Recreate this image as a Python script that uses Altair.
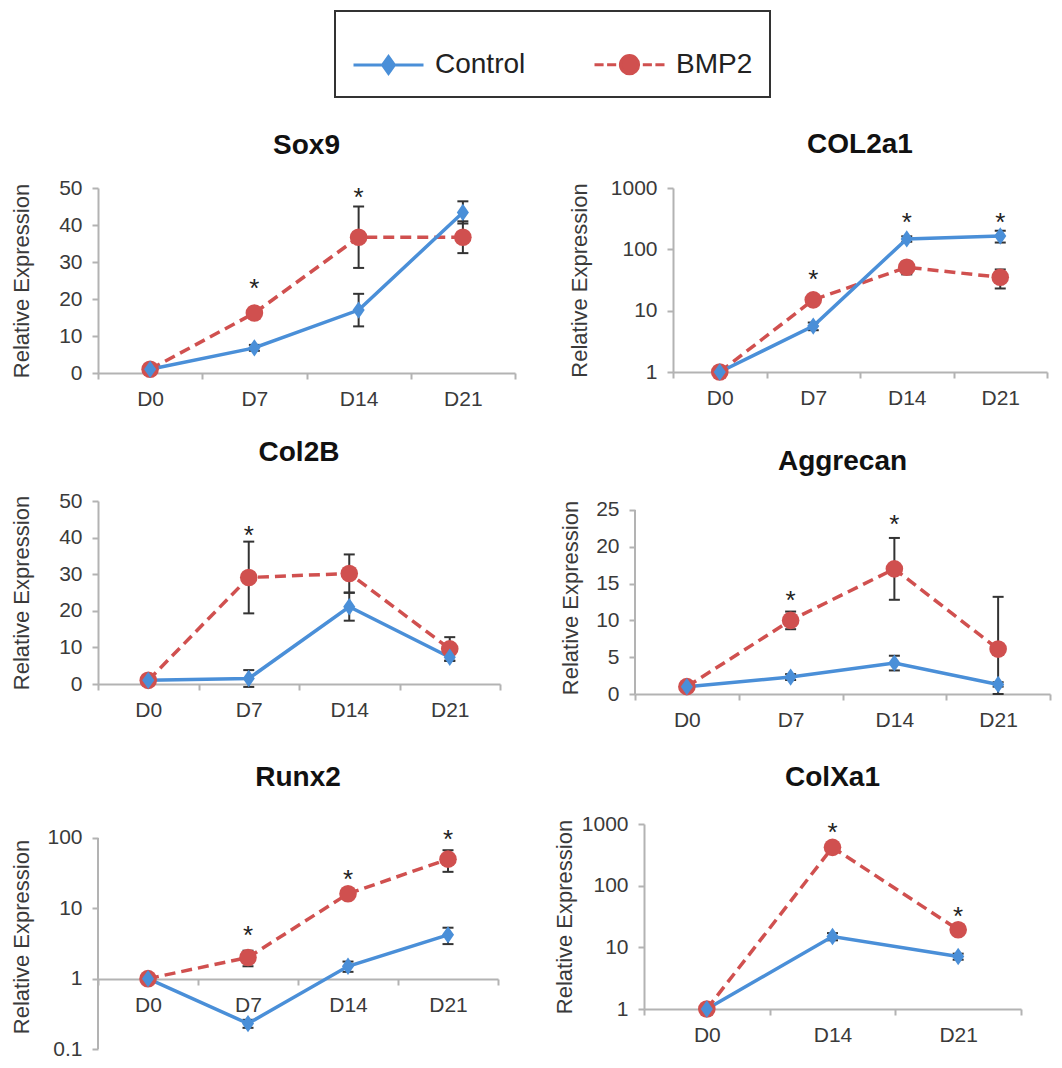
import altair as alt
import pandas as pd

FONT = "Liberation Sans"
BLUE = "#4a8fd8"
RED = "#d0504f"
BAR = "#333333"
AXIS_GREY = "#b3b3b3"

series_names = ["Control", "BMP2"]
days4 = ["D0", "D7", "D14", "D21"]
days3 = ["D0", "D14", "D21"]

# ---- Sox9 ----
sox9_ctrl = [1.0, 6.8, 17.0, 43.4]
sox9_ctrl_sd = [0.3, 0.8, 4.4, 3.0]
sox9_bmp = [1.0, 16.2, 36.7, 36.7]
sox9_bmp_sd = [0.3, 1.0, 8.3, 4.3]
sox9_star_days = ["D7", "D14"]
sox9_star_y = [25.0, 49.5]

# ---- COL2a1 (log) ----
col2a1_ctrl = [1.0, 5.6, 148.0, 165.0]
col2a1_ctrl_sd = [0.05, 0.8, 15.0, 36.0]
col2a1_bmp = [1.0, 15.0, 51.0, 35.0]
col2a1_bmp_sd = [0.05, 2.0, 12.0, 12.0]
col2a1_star_days = ["D7", "D14", "D21"]
col2a1_star_y = [42.0, 360.0, 360.0]

# ---- Col2B ----
col2b_ctrl = [1.0, 1.5, 21.1, 7.3]
col2b_ctrl_sd = [0.3, 2.3, 3.8, 1.0]
col2b_bmp = [1.0, 29.1, 30.2, 9.6]
col2b_bmp_sd = [0.3, 9.8, 5.2, 3.2]
col2b_star_days = ["D7"]
col2b_star_y = [42.7]

# ---- Aggrecan ----
agg_ctrl = [1.0, 2.3, 4.2, 1.3]
agg_ctrl_sd = [0.1, 0.4, 1.0, 0.3]
agg_bmp = [1.0, 10.0, 17.0, 6.1]
agg_bmp_sd = [0.1, 1.2, 4.2, 7.1]
agg_star_days = ["D7", "D14"]
agg_star_y = [13.7, 24.0]

# ---- Runx2 (log) ----
runx2_ctrl = [1.0, 0.23, 1.5, 4.2]
runx2_ctrl_sd = [0.05, 0.03, 0.25, 1.1]
runx2_bmp = [1.0, 2.0, 16.1, 50.0]
runx2_bmp_sd = [0.05, 0.5, 1.5, 17.0]
runx2_star_days = ["D7", "D14", "D21"]
runx2_star_y = [5.2, 33.0, 120.0]

# ---- ColXa1 (log) ----
colx_ctrl = [1.0, 15.0, 7.1]
colx_ctrl_sd = [0.05, 2.0, 0.8]
colx_bmp = [1.0, 418.0, 19.3]
colx_bmp_sd = [0.05, 40.0, 2.0]
colx_star_days = ["D14", "D21"]
colx_star_y = [950.0, 42.0]

DIAMOND = "M0,-1L0.7,0L0,1L-0.7,0Z"
LEG_CTRL = "M-1,0H1M0,-0.24L0.17,0L0,0.24L-0.17,0Z"
LEG_BMP = ("M-1,0H-0.74M-0.64,0H-0.38M0.38,0H0.64M0.74,0H1"
           "M-0.26,0A0.26,0.26,0,1,0,0.26,0A0.26,0.26,0,1,0,-0.26,0Z")


def panel(title, days, ctrl, ctrl_sd, bmp, bmp_sd, star_days, star_y, *, log,
          domain, ticks, width, height, title_offset, title_pad, x_offset=0,
          clamp=False, legend=None, own_y_line=False):
    rows = []
    for name, vals, sds in (("Control", ctrl, ctrl_sd), ("BMP2", bmp, bmp_sd)):
        for d, v, s in zip(days, vals, sds):
            rows.append({"day": d, "series": name, "value": v, "lo": v - s, "hi": v + s})
    df = pd.DataFrame(rows)
    stars = pd.DataFrame({"day": star_days, "y": star_y})

    yscale = alt.Scale(type="log" if log else "linear", domain=domain, nice=False, clamp=clamp)
    xscale = alt.Scale(type="band", paddingInner=0, paddingOuter=0)
    xaxis = alt.Axis(title=None, labelAngle=0, tickBand="extent", offset=x_offset)
    yaxis = alt.Axis(title="Relative Expression", values=ticks, format="~r",
                     titlePadding=title_pad, labelPadding=10, domain=not own_y_line)
    xc = alt.X("day:N", sort=days, bandPosition=0.5, scale=xscale, axis=xaxis)
    xt = alt.X("day:N", sort=days, scale=xscale, axis=xaxis)

    def Y(f):
        return alt.Y(f, scale=yscale, axis=yaxis)

    base = alt.Chart(df)
    err = base.mark_rule(color=BAR, strokeWidth=2).encode(x=xc, y=Y("lo:Q"), y2="hi:Q")
    cap_lo = base.mark_tick(color=BAR, thickness=2, size=11, opacity=1).encode(x=xt, y=Y("lo:Q"))
    cap_hi = base.mark_tick(color=BAR, thickness=2, size=11, opacity=1).encode(x=xt, y=Y("hi:Q"))
    ctrl_df = base.transform_filter(alt.datum.series == "Control")
    bmp_df = base.transform_filter(alt.datum.series == "BMP2")
    l_ctrl = ctrl_df.mark_line(color=BLUE, strokeWidth=3.5).encode(x=xc, y=Y("value:Q"))
    l_bmp = bmp_df.mark_line(color=RED, strokeWidth=3.5, strokeDash=[11, 6]).encode(x=xc, y=Y("value:Q"))
    p_ctrl = ctrl_df.mark_point(filled=True, opacity=1, shape=DIAMOND, size=300, color=BLUE).encode(x=xc, y=Y("value:Q"))
    p_bmp = bmp_df.mark_point(filled=True, opacity=1, shape="circle", size=310, color=RED).encode(x=xc, y=Y("value:Q"))
    st = alt.Chart(stars).mark_text(text="*", font=FONT, fontSize=26, color="#222", dy=8).encode(x=xc, y=Y("y:Q"))

    layers = []
    if own_y_line:
        # vertical axis line drawn only over the labelled tick range
        yl = pd.DataFrame({"day": [days[0]], "ymin": [ticks[0]], "ymax": [ticks[-1]]})
        layers.append(alt.Chart(yl).mark_rule(color=AXIS_GREY, strokeWidth=2).encode(
            x=alt.X("day:N", sort=days, bandPosition=0, scale=xscale, axis=xaxis),
            y=Y("ymin:Q"), y2="ymax:Q"))
    layers += [err, cap_lo, cap_hi, l_bmp, l_ctrl, p_bmp, p_ctrl, st]
    if legend is not None:
        leg_df = pd.DataFrame({"series": series_names})
        leg = alt.Chart(leg_df).transform_filter("false").mark_point(filled=False, opacity=1).encode(
            shape=alt.Shape("series:N", scale=alt.Scale(domain=series_names, range=[LEG_CTRL, LEG_BMP]), legend=legend),
            fill=alt.Fill("series:N", scale=alt.Scale(domain=series_names, range=[BLUE, RED]), legend=legend),
            stroke=alt.Stroke("series:N", scale=alt.Scale(domain=series_names, range=[BLUE, RED]), legend=legend),
        )
        layers.append(leg)

    return alt.layer(*layers).properties(
        width=width, height=height,
        title=alt.TitleParams(text=title, font=FONT, fontSize=28, fontWeight="bold",
                              color="#111", offset=title_offset, anchor="middle"),
    )


legend = alt.Legend(orient="none", legendX=237, legendY=-177, direction="horizontal", title=None,
                    labelFontSize=28, labelFont=FONT, labelColor="#222", symbolSize=4900,
                    symbolStrokeWidth=3, strokeColor="#333", padding=17, columnPadding=62,
                    labelOffset=10, fillColor="white", symbolOpacity=1)

sox9 = panel("Sox9", days4, sox9_ctrl, sox9_ctrl_sd, sox9_bmp, sox9_bmp_sd, sox9_star_days, sox9_star_y,
             log=False, domain=[0, 50], ticks=[0, 10, 20, 30, 40, 50], width=417, height=185,
             title_offset=17, title_pad=25, legend=legend)
col2a1 = panel("COL2a1", days4, col2a1_ctrl, col2a1_ctrl_sd, col2a1_bmp, col2a1_bmp_sd, col2a1_star_days,
               col2a1_star_y, log=True, domain=[1, 1000], ticks=[1, 10, 100, 1000], width=374, height=184,
               title_offset=18, title_pad=19)
col2b = panel("Col2B", days4, col2b_ctrl, col2b_ctrl_sd, col2b_bmp, col2b_bmp_sd, col2b_star_days, col2b_star_y,
              log=False, domain=[0, 50], ticks=[0, 10, 20, 30, 40, 50], width=402, height=183,
              title_offset=23, title_pad=25)
aggrecan = panel("Aggrecan", days4, agg_ctrl, agg_ctrl_sd, agg_bmp, agg_bmp_sd, agg_star_days, agg_star_y,
                 log=False, domain=[0, 26.22], ticks=[0, 5, 10, 15, 20, 25], width=415, height=193,
                 title_offset=23, title_pad=13, clamp=True, own_y_line=True)
runx2 = panel("Runx2", days4, runx2_ctrl, runx2_ctrl_sd, runx2_bmp, runx2_bmp_sd, runx2_star_days, runx2_star_y,
              log=True, domain=[0.1, 158], ticks=[0.1, 1, 10, 100], width=400, height=225,
              title_offset=32, title_pad=13, x_offset=-70, own_y_line=True)
colx = panel("ColXa1", days3, colx_ctrl, colx_ctrl_sd, colx_bmp, colx_bmp_sd, colx_star_days, colx_star_y,
             log=True, domain=[1, 1000], ticks=[1, 10, 100, 1000], width=377, height=185,
             title_offset=21, title_pad=5)

row1 = alt.hconcat(sox9, col2a1, spacing=52)
row2 = alt.hconcat(col2b, aggrecan, spacing=58)
row3 = alt.hconcat(runx2, colx, spacing=54)
lower = alt.vconcat(row2, row3, spacing=34)

chart = alt.vconcat(row1, lower, spacing=30).properties(
    padding={"left": 2, "top": 2, "right": 2, "bottom": 2},
    background="white",
).configure_view(stroke=None).configure_axis(
    labelFont=FONT, titleFont=FONT, labelFontSize=21, titleFontSize=22, titleFontWeight="normal",
    labelColor="#3a3a3a", titleColor="#3a3a3a", domainColor=AXIS_GREY, tickColor=AXIS_GREY,
    domainWidth=2, tickWidth=2, tickSize=6, grid=False, labelPadding=9,
).configure_legend(strokeWidth=2)

chart.save("out.html", embed_options={"renderer": "svg", "actions": False})
